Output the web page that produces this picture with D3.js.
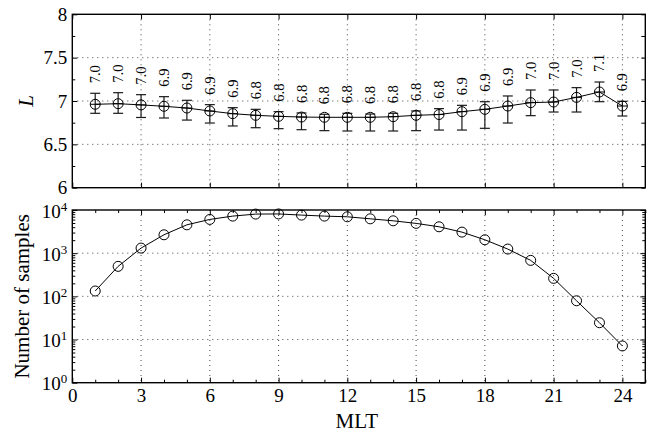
<!DOCTYPE html>
<html>
<head>
<meta charset="utf-8">
<script src="https://cdn.jsdelivr.net/npm/d3@7"></script>
<style>
  body { margin: 0; background: #fff; }
  svg { display: block; }
  text { font-family: "Liberation Serif", "Times New Roman", Times, serif; fill: #000; }
</style>
</head>
<body>
<svg id="chart" width="654" height="433"></svg>
<script>
// Magnetic local time bins (hours)
const mlt = [1, 2, 3, 4, 5, 6, 7, 8, 9, 10, 11, 12, 13, 14, 15, 16, 17, 18, 19, 20, 21, 22, 23, 24];

// Mean L-shell per bin, with lower and upper ends of the error bars
const lMean = [6.962, 6.969, 6.955, 6.939, 6.919, 6.885, 6.854, 6.835, 6.823, 6.815, 6.812, 6.812,
               6.812, 6.819, 6.835, 6.844, 6.877, 6.904, 6.942, 6.981, 6.988, 7.042, 7.104, 6.942];
const lLow  = [6.858, 6.858, 6.810, 6.804, 6.780, 6.746, 6.712, 6.692, 6.681, 6.669, 6.658, 6.654,
               6.654, 6.654, 6.658, 6.665, 6.665, 6.685, 6.746, 6.831, 6.873, 6.873, 6.992, 6.827];
const lHigh = [7.089, 7.096, 7.073, 7.050, 7.008, 6.958, 6.923, 6.904, 6.877, 6.862, 6.847, 6.858,
               6.850, 6.858, 6.885, 6.912, 6.950, 6.992, 7.058, 7.127, 7.127, 7.154, 7.219, 6.996];

// Number of samples per bin
const samples = [133, 495, 1312, 2667, 4540, 6050, 7220, 8040, 8100, 7620, 7220, 6960,
                 6250, 5620, 4900, 4085, 3075, 2044, 1245, 681, 261, 79, 24.5, 7.1];

// Axis ticks
const xTicks = [0, 3, 6, 9, 12, 15, 18, 21, 24];
const xMinorTicks = [1, 2, 4, 5, 7, 8, 10, 11, 13, 14, 16, 17, 19, 20, 22, 23, 25];
const lTicks = [6, 6.5, 7, 7.5, 8];
const lMinorTicks = [6.25, 6.75, 7.25, 7.75];
const sampleTicks = [1, 10, 100, 1000, 10000];
const sampleExponents = ["0", "1", "2", "3", "4"];

const svg = d3.select("#chart");
const left = 72.3, right = 645.3;
const topPanel = { top: 14.3, bottom: 187.7 };
const botPanel = { top: 210, bottom: 382.7 };

const x = d3.scaleLinear().domain([0, 25]).range([left, right]);
const yL = d3.scaleLinear().domain([6, 8]).range([topPanel.bottom, topPanel.top]);
const yN = d3.scaleLog().domain([1, 10000]).range([botPanel.bottom, botPanel.top]);

const tickFont = 19;

function grid(g, panel, yScale, yGridVals) {
  const gg = g.append("g").attr("class", "grid")
    .attr("stroke", "#333").attr("stroke-width", 0.9).attr("stroke-dasharray", "1,4");
  gg.selectAll("line.gx").data(xTicks.filter(d => d > 0)).join("line")
    .attr("x1", d => x(d)).attr("x2", d => x(d))
    .attr("y1", panel.top).attr("y2", panel.bottom);
  gg.selectAll("line.gy").data(yGridVals).join("line")
    .attr("x1", left).attr("x2", right)
    .attr("y1", d => yScale(d)).attr("y2", d => yScale(d));
}

function cleanAxis(sel) {
  sel.select(".domain").remove();
  sel.selectAll(".tick line").attr("stroke", "#000").attr("stroke-width", 1);
}

function frame(g, panel) {
  g.append("rect")
    .attr("x", left).attr("y", panel.top)
    .attr("width", right - left).attr("height", panel.bottom - panel.top)
    .attr("fill", "none").attr("stroke", "#000").attr("stroke-width", 1.4);
}

// ---------- Upper panel: L versus MLT ----------
const gTop = svg.append("g");
grid(gTop, topPanel, yL, [6.5, 7, 7.5]);

// y axis, left (labelled) and right
gTop.append("g").attr("transform", `translate(${left},0)`)
  .call(d3.axisLeft(yL).tickValues(lTicks).tickSize(-5).tickPadding(5).tickFormat(d3.format("")))
  .call(cleanAxis)
  .call(g => g.selectAll("text").attr("font-size", tickFont).attr("font-family", null));
gTop.append("g").attr("transform", `translate(${left},0)`)
  .call(d3.axisLeft(yL).tickValues(lMinorTicks).tickSize(-3).tickFormat(""))
  .call(cleanAxis);
gTop.append("g").attr("transform", `translate(${right},0)`)
  .call(d3.axisRight(yL).tickValues(lTicks.concat(lMinorTicks)).tickSize(-4).tickFormat(""))
  .call(cleanAxis);
// x ticks, bottom and top
gTop.append("g").attr("transform", `translate(0,${topPanel.bottom})`)
  .call(d3.axisBottom(x).tickValues(xTicks).tickSize(-5).tickFormat(""))
  .call(cleanAxis);
gTop.append("g").attr("transform", `translate(0,${topPanel.top})`)
  .call(d3.axisTop(x).tickValues(xTicks).tickSize(-5).tickFormat(""))
  .call(cleanAxis);

frame(gTop, topPanel);

// error bars
const eb = gTop.append("g").attr("stroke", "#1a1a1a").attr("stroke-width", 1.2).attr("fill", "none");
mlt.forEach((m, i) => {
  const cx = x(m);
  eb.append("line").attr("x1", cx).attr("x2", cx).attr("y1", yL(lLow[i])).attr("y2", yL(lHigh[i]));
  eb.append("line").attr("x1", cx - 5).attr("x2", cx + 5).attr("y1", yL(lLow[i])).attr("y2", yL(lLow[i]));
  eb.append("line").attr("x1", cx - 5).attr("x2", cx + 5).attr("y1", yL(lHigh[i])).attr("y2", yL(lHigh[i]));
});

// mean line and markers
const lineL = d3.line().x((d, i) => x(mlt[i])).y(d => yL(d));
gTop.append("path").datum(lMean).attr("d", lineL)
  .attr("fill", "none").attr("stroke", "#000").attr("stroke-width", 1);
const mk = gTop.append("g").attr("stroke", "#000").attr("stroke-width", 1).attr("fill", "none");
lMean.forEach((v, i) => {
  const cx = x(mlt[i]), cy = yL(v);
  mk.append("circle").attr("cx", cx).attr("cy", cy).attr("r", 5);
  mk.append("line").attr("x1", cx - 5).attr("x2", cx + 5).attr("y1", cy).attr("y2", cy);
});

// value labels above each error bar
gTop.append("g").selectAll("text").data(lMean).join("text")
  .attr("transform", (d, i) => `translate(${x(mlt[i])},${yL(lHigh[i]) - 10}) rotate(-90)`)
  .attr("text-anchor", "start")
  .attr("dominant-baseline", "central")
  .attr("font-size", 14.5)
  .text(d => d.toFixed(1));

// y label
svg.append("text")
  .attr("transform", `translate(33,${(topPanel.top + topPanel.bottom) / 2}) rotate(-90)`)
  .attr("text-anchor", "middle")
  .attr("font-size", 21).attr("font-style", "italic")
  .text("L");

// ---------- Lower panel: number of samples versus MLT ----------
const gBot = svg.append("g");
grid(gBot, botPanel, yN, [10, 100, 1000]);

const minorLog = [];
sampleTicks.slice(0, -1).forEach(p => { for (let k = 2; k <= 9; k++) minorLog.push(p * k); });

const yAxisN = gBot.append("g").attr("transform", `translate(${left},0)`)
  .call(d3.axisLeft(yN).tickValues(sampleTicks).tickSize(-5).tickPadding(5).tickFormat(""))
  .call(cleanAxis);
yAxisN.selectAll(".tick text")
  .attr("font-size", tickFont).attr("font-family", null)
  .each(function (d, i) {
    const t = d3.select(this);
    t.append("tspan").text("10");
    t.append("tspan").attr("font-size", 13).attr("dy", "-0.55em").text(sampleExponents[i]);
  })
  .attr("dy", "0.38em");
gBot.append("g").attr("transform", `translate(${left},0)`)
  .call(d3.axisLeft(yN).tickValues(minorLog).tickSize(-3).tickFormat(""))
  .call(cleanAxis);
gBot.append("g").attr("transform", `translate(${right},0)`)
  .call(d3.axisRight(yN).tickValues(sampleTicks).tickSize(-5).tickFormat(""))
  .call(cleanAxis);
gBot.append("g").attr("transform", `translate(${right},0)`)
  .call(d3.axisRight(yN).tickValues(minorLog).tickSize(-3).tickFormat(""))
  .call(cleanAxis);

// x axis, labelled at bottom, ticks on top
gBot.append("g").attr("transform", `translate(0,${botPanel.bottom})`)
  .call(d3.axisBottom(x).tickValues(xTicks).tickSize(-5).tickPadding(6).tickFormat(d3.format("d")))
  .call(cleanAxis)
  .call(g => g.selectAll("text").attr("font-size", tickFont).attr("font-family", null));
gBot.append("g").attr("transform", `translate(0,${botPanel.bottom})`)
  .call(d3.axisBottom(x).tickValues(xMinorTicks).tickSize(-3).tickFormat(""))
  .call(cleanAxis);
gBot.append("g").attr("transform", `translate(0,${botPanel.top})`)
  .call(d3.axisTop(x).tickValues(xTicks).tickSize(-5).tickFormat(""))
  .call(cleanAxis);
gBot.append("g").attr("transform", `translate(0,${botPanel.top})`)
  .call(d3.axisTop(x).tickValues(xMinorTicks).tickSize(-3).tickFormat(""))
  .call(cleanAxis);

frame(gBot, botPanel);

const lineN = d3.line().x((d, i) => x(mlt[i])).y(d => yN(d));
gBot.append("path").datum(samples).attr("d", lineN)
  .attr("fill", "none").attr("stroke", "#000").attr("stroke-width", 1);
gBot.append("g").selectAll("circle").data(samples).join("circle")
  .attr("cx", (d, i) => x(mlt[i])).attr("cy", d => yN(d)).attr("r", 5)
  .attr("fill", "none").attr("stroke", "#000").attr("stroke-width", 1);

svg.append("text")
  .attr("transform", `translate(29,${(botPanel.top + botPanel.bottom) / 2}) rotate(-90)`)
  .attr("text-anchor", "middle")
  .attr("font-size", 21)
  .text("Number of samples");

svg.append("text")
  .attr("x", (left + right) / 2 - 2).attr("y", 428)
  .attr("text-anchor", "middle")
  .attr("font-size", 21)
  .text("MLT");
</script>
</body>
</html>
